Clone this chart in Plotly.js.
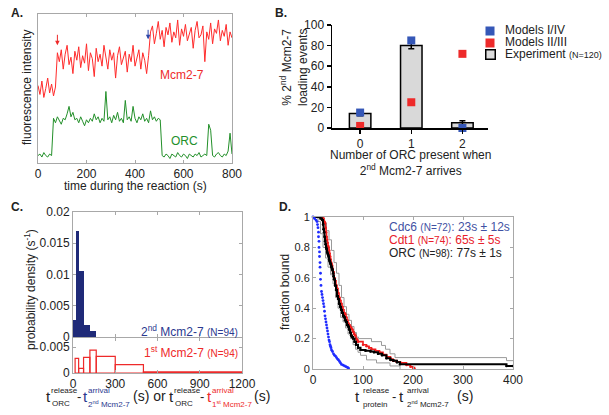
<!DOCTYPE html>
<html>
<head>
<meta charset="utf-8">
<script src="https://cdn.plot.ly/plotly-3.0.1.min.js"></script>
<style>
  body { margin: 0; background: #fff; }
  #fig { width: 609px; height: 415px; }
</style>
</head>
<body>
<div id="fig"></div>
<script>
// ---- panel A: single-molecule fluorescence traces (8 s per sample) ----
const traceStep = 8;
const mcmSignal = [
  52, 46, 55, 44, 50, 57, 47, 53, 45, 51,
  74,
  68, 76, 63, 73, 79, 66, 71, 60, 75, 69,
  78, 64, 72, 67, 80, 62, 74, 70, 58, 77,
  68, 73, 65, 79, 71, 63, 76, 69, 74, 57,
  72, 78, 66, 70, 75, 61, 73, 68, 79, 65,
  71, 76, 63, 74, 69, 60, 72,
  88, 92, 80, 87, 95, 83, 89, 78, 91, 86,
  94, 81, 88, 84, 96, 79, 90, 85, 93, 82,
  87, 91, 77, 89, 95, 84, 86, 92, 68, 88,
  83, 94, 80, 90, 87, 96, 82, 89, 85, 93,
  79, 88, 84
];
const orcSignal = [
  5, 6, 4, 7, 5, 4, 6, 5,
  30, 27, 31, 28, 26, 30, 29, 33, 38, 31, 34, 29, 30, 27, 31, 28, 25, 29, 27, 30,
  28, 33, 29, 31, 27, 30, 28, 48, 29, 31, 27, 32, 29, 34, 28, 30, 27, 42, 29, 31,
  28, 38, 30, 27, 31, 29, 33, 28, 30, 27, 35, 29, 31, 28, 30, 29,
  5, 4, 6, 5, 3, 6, 5, 4, 7, 5, 4, 6, 5, 3, 6, 5, 4, 6, 5, 7, 4, 5, 6, 5,
  26, 22,
  5, 4, 6, 7, 5, 4, 6, 5, 8, 20, 6
];
const timeTicks = [0, 200, 400, 600, 800];

// ---- panel B: number of ORC present when 2nd Mcm2-7 arrives ----
const orcPresent = [0, 1, 2];
const experimentPct = [14, 80, 5];
const experimentErr = [2, 3, 2];
const modelsIandIV = [15, 85, 0];
const modelsIIandIII = [2, 25, 72];

// ---- panel C: histograms of ORC release relative to Mcm2-7 arrival ----
const secondEdges = [0, 20, 40, 80, 120, 160];
const secondDensity = [0.0027, 0.017, 0.0105, 0.002, 0.001];
const firstEdges = [15, 40, 75, 120, 165, 300, 500, 1200];
const firstDensity = [0.0028, 0.0009, 0.003, 0.0044, 0.0032, 0.0016, 0.0002];

// ---- panel D: survival curves after 2nd Mcm2-7 arrival ----
const cdc6T = [0, 3, 6, 8, 9, 10, 11, 11, 12, 12, 13, 13, 14, 14, 15, 15, 16, 17, 18, 19,
  20, 21, 22, 23, 24, 25, 26, 27, 28, 29, 30, 31, 32, 33, 34, 35, 36, 37, 39, 41,
  43, 45, 47, 49, 51, 53, 55, 57, 60, 63, 66, 69, 71];
const cdc6F = [1, 0.99, 0.98, 0.97, 0.95, 0.93, 0.9, 0.87, 0.84, 0.8, 0.77, 0.74, 0.7, 0.67, 0.63, 0.59, 0.55, 0.51, 0.49, 0.47,
  0.45, 0.43, 0.41, 0.38, 0.35, 0.33, 0.31, 0.29, 0.27, 0.25, 0.23, 0.21, 0.19, 0.18, 0.16, 0.15, 0.14, 0.125, 0.115, 0.1,
  0.09, 0.085, 0.075, 0.065, 0.06, 0.05, 0.04, 0.03, 0.026, 0.02, 0.015, 0.01, 0.005];
const cdt1T = [0, 15, 20, 22, 24, 25, 26, 27, 28, 29, 30, 31, 32, 33, 34, 35, 36, 37, 38, 39,
  40, 42, 44, 46, 48, 50, 52, 54, 56, 58, 60, 62, 64, 66, 68, 70, 72, 74, 76, 78,
  80, 82, 84, 86, 88, 90, 100, 107, 112, 117, 125, 133, 140, 147, 155, 160, 167, 175, 187, 195, 200, 203];
const cdt1F = [1, 1, 0.99, 0.97, 0.96, 0.93, 0.9, 0.87, 0.85, 0.83, 0.81, 0.8, 0.78, 0.76, 0.74, 0.72, 0.7, 0.69, 0.68, 0.66,
  0.64, 0.6, 0.58, 0.55, 0.53, 0.5, 0.47, 0.45, 0.43, 0.41, 0.39, 0.37, 0.36, 0.34, 0.32, 0.3, 0.29, 0.28, 0.27, 0.26,
  0.245, 0.23, 0.22, 0.2, 0.19, 0.18, 0.16, 0.15, 0.14, 0.13, 0.12, 0.11, 0.095, 0.08, 0.065, 0.055, 0.048, 0.04, 0.026, 0.015, 0.009, 0];
const orcT = [0, 10, 15, 18, 20, 21, 22, 23, 24, 25, 26, 27, 28, 29, 30, 31, 32, 33, 34, 35,
  36, 37, 38, 39, 40, 41, 42, 44, 46, 48, 50, 52, 54, 56, 58, 60, 62, 64, 66, 68,
  70, 72, 74, 76, 78, 80, 83, 86, 90, 95, 105, 115, 122, 130, 138, 147, 155, 161, 168, 174, 387, 400];
const orcF = [1, 1, 0.99, 0.98, 0.95, 0.92, 0.9, 0.87, 0.84, 0.82, 0.8, 0.79, 0.77, 0.76, 0.75, 0.74, 0.72, 0.71, 0.7, 0.69,
  0.68, 0.67, 0.66, 0.65, 0.63, 0.61, 0.59, 0.55, 0.52, 0.48, 0.46, 0.43, 0.41, 0.39, 0.37, 0.35, 0.34, 0.32, 0.31, 0.29,
  0.28, 0.26, 0.24, 0.22, 0.21, 0.2, 0.18, 0.16, 0.14, 0.125, 0.12, 0.115, 0.11, 0.1, 0.09, 0.07, 0.06, 0.055, 0.045, 0.031, 0.02, 0.02];
const orcUpperT = [0, 17, 22, 27, 32, 37, 42, 47, 52, 57, 62, 67, 72, 77, 82, 87, 91, 117, 137, 145, 154, 164, 387, 400];
const orcUpperF = [1, 1, 0.96, 0.91, 0.85, 0.78, 0.7, 0.63, 0.55, 0.47, 0.41, 0.36, 0.32, 0.28, 0.24, 0.21, 0.2, 0.18, 0.155, 0.13, 0.1, 0.075, 0.055, 0.055];
const orcLowerT = [0, 10, 15, 20, 25, 30, 35, 40, 45, 50, 55, 60, 65, 70, 75, 80, 85, 90, 95, 107, 127, 154, 174];
const orcLowerF = [1, 0.97, 0.89, 0.8, 0.73, 0.67, 0.62, 0.56, 0.47, 0.4, 0.34, 0.31, 0.27, 0.23, 0.2, 0.16, 0.13, 0.11, 0.09, 0.06, 0.04, 0.02, 0];

// colours
const RED = '#ee2a2a', GREEN = '#23902a', NAVY = '#1f2a78', BLUE = '#3557b7';
const FRAME = '#a8a8a8', INK = '#222';

// pixel -> paper helpers
const W = 609, H = 415;
const fx = p => p / W;
const fy = p => 1 - p / H;

function label(text, x, y, size, color, anchor, extra) {
  return Object.assign({
    text: text, x: fx(x), y: fy(y), xref: 'paper', yref: 'paper',
    xanchor: anchor || 'left', yanchor: 'middle', showarrow: false,
    font: { size: size, color: color || INK }
  }, extra || {});
}

// histogram helpers: bin centres and widths from the edges
const centres = e => e.slice(0, -1).map((v, i) => (v + e[i + 1]) / 2);
const widths = e => e.slice(0, -1).map((v, i) => e[i + 1] - v);

const data = [
  // A
  { y: mcmSignal, x0: 0, dx: traceStep, type: 'scatter', mode: 'lines',
    line: { color: '#ff2b2b', width: 1 }, xaxis: 'x', yaxis: 'y', showlegend: false },
  { y: orcSignal, x0: 0, dx: traceStep, type: 'scatter', mode: 'lines',
    line: { color: GREEN, width: 1 }, xaxis: 'x', yaxis: 'y', showlegend: false },
  // B
  { x: orcPresent, y: experimentPct, type: 'bar', width: 0.42,
    marker: { color: '#d9d9d9', line: { color: '#000', width: 1.5 } },
    error_y: { type: 'data', array: experimentErr, color: '#000', thickness: 1.5, width: 3 },
    xaxis: 'x2', yaxis: 'y2', showlegend: false },
  { x: orcPresent, y: modelsIandIV, type: 'scatter', mode: 'markers', cliponaxis: false,
    marker: { symbol: 'square', size: 8, color: BLUE }, xaxis: 'x2', yaxis: 'y2', showlegend: false },
  { x: orcPresent, y: modelsIIandIII, type: 'scatter', mode: 'markers', cliponaxis: false,
    marker: { symbol: 'square', size: 8, color: RED }, xaxis: 'x2', yaxis: 'y2', showlegend: false },
  // C
  { x: centres(secondEdges), y: secondDensity, width: widths(secondEdges), type: 'bar',
    marker: { color: NAVY, line: { width: 0 } }, xaxis: 'x3', yaxis: 'y3', showlegend: false },
  { x: centres(firstEdges), y: firstDensity, width: widths(firstEdges), type: 'bar',
    marker: { color: 'rgba(0,0,0,0)', line: { color: RED, width: 1.2 } },
    xaxis: 'x4', yaxis: 'y4', showlegend: false },
  // D
  { x: orcUpperT, y: orcUpperF, type: 'scatter', mode: 'lines', line: { color: '#9a9a9a', width: 1, shape: 'hv' },
    xaxis: 'x5', yaxis: 'y5', showlegend: false },
  { x: orcLowerT, y: orcLowerF, type: 'scatter', mode: 'lines', line: { color: '#9a9a9a', width: 1, shape: 'hv' },
    xaxis: 'x5', yaxis: 'y5', showlegend: false },
  { x: cdt1T, y: cdt1F, type: 'scatter', mode: 'lines+markers', line: { color: '#f01c1c', width: 1.6, shape: 'hv' },
    marker: { size: 2.5, color: '#f01c1c' }, xaxis: 'x5', yaxis: 'y5', showlegend: false },
  { x: orcT, y: orcF, type: 'scatter', mode: 'lines+markers', line: { color: '#000', width: 2, shape: 'hv' },
    marker: { size: 2.5, color: '#000' }, xaxis: 'x5', yaxis: 'y5', showlegend: false },
  { x: cdc6T, y: cdc6F, type: 'scatter', mode: 'markers', cliponaxis: false,
    marker: { size: 2.8, color: '#1f2cff' }, xaxis: 'x5', yaxis: 'y5', showlegend: false }
];

const frameAxis = {
  showline: true, linecolor: FRAME, linewidth: 1, mirror: 'ticks', ticks: 'inside',
  ticklen: 3, tickcolor: FRAME, showgrid: false, zeroline: false,
  tickfont: { size: 12, color: INK }
};
const blackAxis = {
  showline: true, linecolor: '#000', linewidth: 1.5, ticks: 'outside', ticklen: 4,
  tickwidth: 1.5, tickcolor: '#000', showgrid: false, zeroline: false,
  tickfont: { size: 12, color: INK }
};

const layout = {
  width: W, height: H,
  margin: { l: 0, r: 0, t: 0, b: 0 },
  paper_bgcolor: '#fff', plot_bgcolor: 'rgba(0,0,0,0)',
  font: { family: 'Liberation Sans, Arial, sans-serif', size: 12, color: INK },
  barmode: 'overlay', bargap: 0,
  showlegend: false,
  // A
  xaxis: Object.assign({}, frameAxis, { domain: [fx(38), fx(232)], range: [0, 800], anchor: 'y', tickvals: timeTicks }),
  yaxis: Object.assign({}, frameAxis, { domain: [fy(163), fy(14)], range: [0, 100], anchor: 'x', ticks: '', showticklabels: false }),
  // B
  xaxis2: Object.assign({}, blackAxis, { domain: [fx(332), fx(488)], range: [-0.55, 2.5], anchor: 'y2', tickvals: orcPresent }),
  yaxis2: Object.assign({}, blackAxis, { domain: [fy(128), fy(25)], range: [0, 100], anchor: 'x2', tickvals: [0, 20, 40, 60, 80, 100] }),
  // C top
  xaxis3: Object.assign({}, frameAxis, { domain: [fx(73), fx(242)], range: [0, 1200], anchor: 'y3',
    tickvals: [0, 300, 600, 900, 1200], showticklabels: false }),
  yaxis3: Object.assign({}, frameAxis, { domain: [fy(337), fy(212)], range: [0, 0.02], anchor: 'x3',
    tickvals: [0, 0.005, 0.01, 0.015, 0.02], ticktext: ['0', '0.005', '0.01', '0.015', '0.02'] }),
  // C bottom
  xaxis4: Object.assign({}, frameAxis, { domain: [fx(73), fx(242)], range: [0, 1200], anchor: 'y4',
    tickvals: [0, 300, 600, 900, 1200] }),
  yaxis4: Object.assign({}, frameAxis, { domain: [fy(373), fy(338)], range: [0, 0.00673], anchor: 'x4',
    tickvals: [0, 0.005], ticktext: ['0', '0.005'] }),
  // D
  xaxis5: Object.assign({}, frameAxis, { domain: [fx(313), fx(513)], range: [0, 400], anchor: 'y5',
    tickvals: [0, 100, 200, 300, 400] }),
  yaxis5: Object.assign({}, frameAxis, { domain: [fy(369), fy(217)], range: [0, 1], anchor: 'x5',
    tickvals: [0, 0.2, 0.4, 0.6, 0.8, 1], ticktext: ['0', '0.2', '0.4', '0.6', '0.8', '1'],
    tickfont: { size: 11, color: INK } }),
  annotations: [
    // panel letters
    label('<b>A.</b>', 9, 13, 12),
    label('<b>B.</b>', 273, 13, 12),
    label('<b>C.</b>', 9, 207, 12),
    label('<b>D.</b>', 277, 207, 12),

    // A
    label('fluorescence intensity', 27, 88, 12, INK, 'center', { textangle: -90 }),
    label('time during the reaction (s)', 135, 186, 12, INK, 'center'),
    label('Mcm2-7', 158, 75, 12, RED),
    label('ORC', 169, 141, 12, GREEN),
    { x: 80, y: 79, xref: 'x', yref: 'y', showarrow: true, ax: 0, ay: -12, text: '',
      arrowcolor: RED, arrowhead: 2, arrowsize: 0.9, arrowwidth: 1 },
    { x: 454, y: 83, xref: 'x', yref: 'y', showarrow: true, ax: 0, ay: -11, text: '',
      arrowcolor: '#2c46a8', arrowhead: 2, arrowsize: 0.9, arrowwidth: 1 },

    // B
    label('% 2<sup>nd</sup> Mcm2-7<br>loading events', 294, 68, 12, INK, 'center', { textangle: -90 }),
    label('Number of ORC present when<br>2<sup>nd</sup> Mcm2-7 arrives', 410, 163, 12, INK, 'center'),
    label(' ', 490, 31, 1, INK, 'center', { width: 8, height: 8, bgcolor: BLUE, borderpad: 0 }),
    label(' ', 490, 43, 1, INK, 'center', { width: 8, height: 8, bgcolor: RED, borderpad: 0 }),
    label(' ', 490, 55, 1, INK, 'center', { width: 8, height: 8, bgcolor: '#dcdcdc', bordercolor: '#000', borderwidth: 1.5, borderpad: 0 }),
    label('Models I/IV', 503, 30, 12),
    label('Models II/III', 503, 42, 12),
    label('Experiment <span style="font-size:9px">(N=120)</span>', 503, 54, 12),

    // C
    label('probability density (s<sup>-1</sup>)', 30, 290, 12, INK, 'center', { textangle: -90 }),
    label('2<sup>nd</sup> Mcm2-7 <span style="font-size:10px">(N=94)</span>', 240, 331, 12, '#2b3990', 'right'),
    label('1<sup>st</sup> Mcm2-7 <span style="font-size:10px">(N=94)</span>', 240, 352, 12, RED, 'right'),
    label('t', 44, 396, 15),
    label('release', 49, 390, 8),
    label('ORC', 50, 403, 8),
    label('-', 75, 396, 13),
    label('t', 81, 396, 15, '#2b3990'),
    label('arrival', 86, 390, 8, '#2b3990'),
    label('2<sup>nd</sup> Mcm2-7', 86, 404, 8, '#2b3990'),
    label('(s) or', 131, 396, 14),
    label('t', 167, 396, 15),
    label('release', 172, 390, 8),
    label('ORC', 173, 403, 8),
    label('-', 198, 396, 13),
    label('t', 205, 396, 15, RED),
    label('arrival', 210, 390, 8, RED),
    label('1<sup>st</sup> Mcm2-7', 210, 404, 8, RED),
    label('(s)', 252, 396, 14),

    // D
    label('fraction bound', 285, 292, 12, INK, 'center', { textangle: -90 }),
    label('Cdc6 <span style="font-size:10px">(N=72)</span>: 23s ± 12s', 387, 227, 12, '#3f51a3'),
    label('Cdt1 <span style="font-size:10px">(N=74)</span>: 65s ± 5s', 387, 240, 12, '#e8202a'),
    label('ORC <span style="font-size:10px">(N=98)</span>: 77s ± 1s', 387, 253, 12, INK),
    label('t', 353, 396, 15),
    label('release', 361, 390, 8),
    label('protein', 361, 404, 8),
    label('-', 390, 396, 13),
    label('t', 397, 396, 15),
    label('arrival', 405, 390, 8),
    label('2<sup>nd</sup> Mcm2-7', 405, 404, 8),
    label('(s)', 455, 396, 14)
  ]
};

Plotly.newPlot('fig', data, layout, { displayModeBar: false, staticPlot: true });
</script>
</body>
</html>
